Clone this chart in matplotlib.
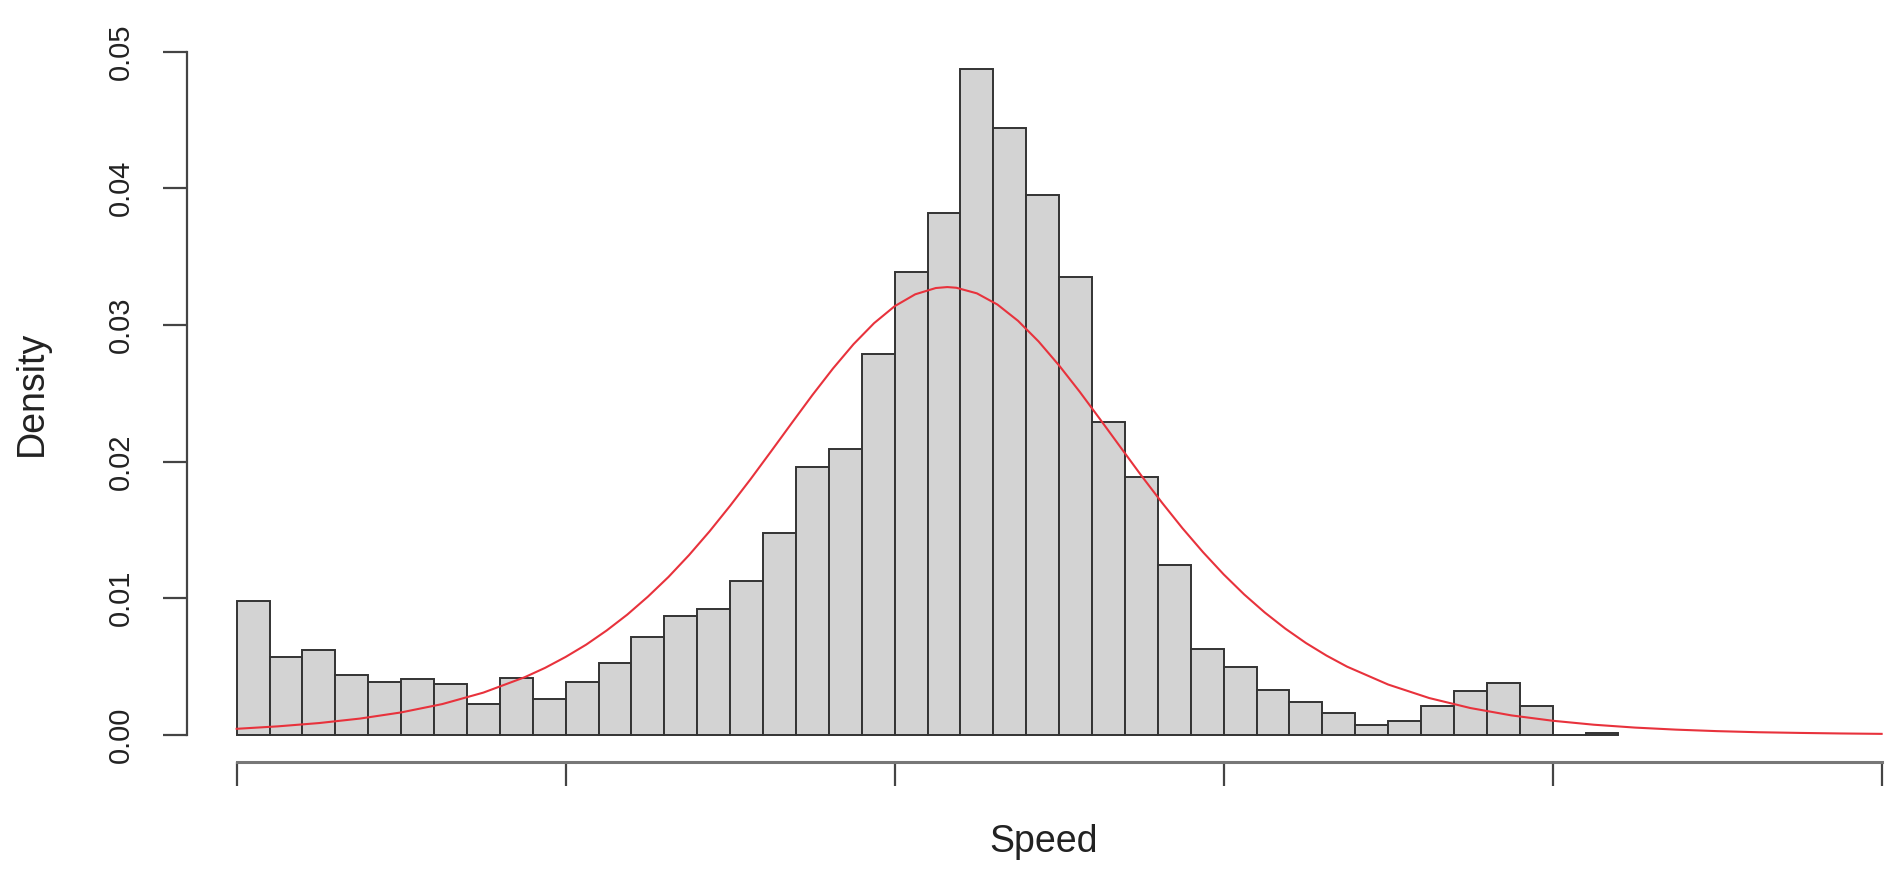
import numpy as np
import matplotlib
matplotlib.use("Agg")
import matplotlib.pyplot as plt

# histogram (density scale), bins of width 2 starting at 0
bin_edges = np.arange(0, 86, 2)
density = [0.0098, 0.0057, 0.0062, 0.0044, 0.0039, 0.0041, 0.0037, 0.0023, 0.0042, 0.0026,
           0.0039, 0.0053, 0.0072, 0.0087, 0.0092, 0.0113, 0.0148, 0.0196, 0.0209, 0.0279,
           0.0339, 0.0382, 0.0487, 0.0444, 0.0395, 0.0335, 0.0229, 0.0189, 0.0124, 0.0063,
           0.0050, 0.0033, 0.0024, 0.0016, 0.0007, 0.0010, 0.0021, 0.0032, 0.0038, 0.0021,
           0.0000, 0.00012]

# fitted density curve
curve_x = [0, 2.5, 5, 7.5, 10, 12.5, 15, 17.5, 18.75, 20, 21.25, 22.5, 23.75, 25, 26.25,
           27.5, 28.75, 30, 31.25, 32.5, 33.75, 35, 36.25, 37.5, 38.75, 40, 41.25, 42.5,
           43.2, 43.75, 45, 46.25, 47.5, 48.75, 50, 51.25, 52.5, 53.75, 55, 56.25, 57.5,
           58.75, 60, 61.25, 62.5, 63.75, 65, 66.25, 67.5, 70, 72.5, 75, 77.5, 80, 82.5,
           85, 87.5, 90, 92.5, 95, 97.5, 100]
curve_y = [0.00045, 0.00063, 0.00087, 0.00120, 0.00165, 0.00226, 0.00310, 0.00422, 0.00491,
           0.00571, 0.00661, 0.00765, 0.00881, 0.01012, 0.01156, 0.01316, 0.01490, 0.01677,
           0.01873, 0.02077, 0.02283, 0.02487, 0.02681, 0.02859, 0.03013, 0.03137, 0.03224,
           0.03270, 0.03277, 0.03272, 0.03231, 0.03149, 0.03030, 0.02879, 0.02703, 0.02511,
           0.02308, 0.02102, 0.01897, 0.01700, 0.01512, 0.01337, 0.01175, 0.01028, 0.00896,
           0.00778, 0.00673, 0.00581, 0.00500, 0.00369, 0.00270, 0.00197, 0.00143, 0.00104,
           0.00075, 0.00054, 0.00039, 0.00028, 0.00020, 0.00015, 0.00011, 0.00008]

x_ticks = [0, 20, 40, 60, 80, 100]
y_ticks = [0.00, 0.01, 0.02, 0.03, 0.04, 0.05]
y_ticklabels = ["0.00", "0.01", "0.02", "0.03", "0.04", "0.05"]


def main():
    plt.rcParams['font.family'] = ['Liberation Sans', 'DejaVu Sans']

    fig = plt.figure(figsize=(18.92, 8.75), dpi=100)
    ax = fig.add_axes([0.0990, 0.1288, 0.9010, 0.8435])

    ax.bar(bin_edges[:-1], density, width=2, align='edge',
           color='#d3d3d3', edgecolor='#333333', linewidth=1.4)
    ax.plot(curve_x, curve_y, color='#e8323c', linewidth=1.5)

    ax.set_xlim(-3, 100.63)
    ax.set_ylim(-0.002, 0.052)

    # R-style axes: lines only between first and last tick
    for side in ['top', 'right']:
        ax.spines[side].set_visible(False)
    ax.spines['left'].set_bounds(0, 0.05)
    ax.spines['bottom'].set_bounds(0, 100)
    ax.spines['left'].set_color('#444444')
    ax.spines['left'].set_linewidth(1.6)
    ax.spines['bottom'].set_color('#777777')
    ax.spines['bottom'].set_linewidth(2.2)

    ax.set_xticks(x_ticks)
    ax.set_xticklabels([])
    ax.set_yticks(y_ticks)
    ax.set_yticklabels(y_ticklabels)
    ax.tick_params(axis='x', length=17, width=1.6, color='#444444', direction='out')
    ax.tick_params(axis='y', length=17, width=1.6, color='#444444', direction='out',
                   pad=21, labelsize=21, labelcolor='#222222')
    plt.setp(ax.get_yticklabels(), rotation=90, va='center')

    fig.text(32 / 1892, 1 - 393 / 875, "Density", rotation=90,
             ha='center', va='center', fontsize=27, color='#222222')
    fig.text(1044 / 1892, 1 - 852 / 875, "Speed",
             ha='center', va='baseline', fontsize=27, color='#222222')

    fig.savefig("out.png", dpi=100)


if __name__ == '__main__':
    main()
